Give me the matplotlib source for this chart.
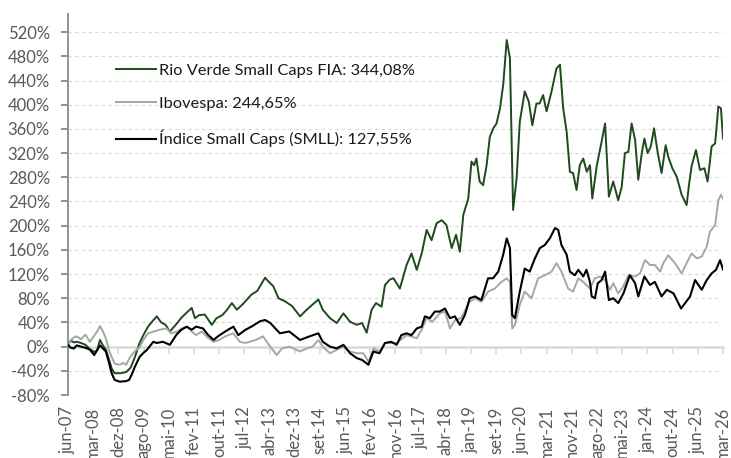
import matplotlib
matplotlib.use("Agg")
import matplotlib.pyplot as plt
import matplotlib.transforms as mtransforms

plt.rcParams.update({
    "font.family": ["Lato", "DejaVu Sans"],
    "font.size": 12,
})

# ── Data (months since jun-07, cumulative return %) ───────────────────────
rv_months = [0, 1, 2, 3, 4.5, 6, 7.5, 9, 10, 11, 12, 13, 14, 15, 16, 18, 20, 21.5, 23, 24.5,
             26, 27.5, 29, 30.5, 32, 33.5, 35, 37, 39, 40.5, 42.5, 43.6, 45, 47, 49.4, 51, 53,
             54.5, 56.3, 58, 60, 63, 65, 67.7, 68.8, 70.5, 72.3, 74.5, 77, 79.7, 82, 86, 87.5,
             90, 92.3, 94.6, 96.9, 99.2, 101, 102.6, 104.3, 105.8, 107.7, 108.9, 110.6, 111.8,
             114, 116.3, 118, 119.8, 121.5, 123.2, 124.9, 126.6, 128.4, 130, 131.8, 133.3,
             134.6, 135.8, 137.5, 138.6, 139.5, 140.3, 141.4, 142.6, 143.8, 144.9, 146.1, 147.2,
             148.4, 149.5, 150.7, 151.8, 152.9, 154.1, 155.2, 156.9, 158.3, 159.5, 160.9, 162,
             163.2, 164.4, 166.1, 167.8, 169, 170.1, 171.3, 172.4, 173.5, 174.7, 175.8, 177,
             178.2, 179.3, 180.1, 181.6, 183.3, 184.5, 185.1, 185.8, 187.3, 189, 190.2, 191.3,
             192.5, 193.6, 194.8, 195.9, 197.1, 198, 199.1, 200.2, 201.3, 202.6, 203.9, 205.3,
             206.2, 207.6, 209.1, 210.8, 212.5, 213.3, 214.2, 215.7, 217.1, 218.6, 219.7, 221.1,
             222.3, 223.4, 224.3, 225]
rv_values = [4, 10, 7, 8, 6, 3, -4, -9, -6, 11, 2, -5, -20, -36, -44, -44, -42, -35, -17, 5,
             20, 33, 42, 50, 40, 36, 25, 36, 48, 55, 64, 47, 52, 53, 36, 47, 52,
             60, 72, 61, 70, 86, 92, 114, 108, 100, 80, 75, 67, 50, 61, 78, 61,
             47, 39, 55, 41, 36, 39, 23, 61, 72, 66, 102, 111, 113,
             96, 135, 154, 127, 154, 193, 176, 204, 209, 201, 163, 185,
             157, 218, 245, 306, 300, 311, 273, 267, 300, 347, 361, 369,
             394, 433, 507, 477, 226, 278, 372, 422, 405, 366, 402, 402,
             416, 389, 422, 460, 466, 394, 355, 289, 287, 259, 300, 311,
             289, 300, 245, 298, 339, 369, 314, 248, 273, 242, 264, 320,
             322, 369, 342, 276, 320, 344, 320, 331, 361, 320, 287, 333,
             314, 295, 281, 251, 234, 267, 298, 325, 292, 295, 273, 331,
             336, 397, 394, 344.08]

ibov_months = [0, 1, 2, 3, 4.5, 6, 7.5, 9, 10, 11, 12, 13, 14, 15, 16, 17.8, 19, 20, 21, 22.5,
               24.7, 26, 27.5, 29.5, 31.5, 33.9, 35.5, 37.5, 39, 40.8, 42.5, 44, 46, 48, 50, 52,
               54, 56.8, 59, 61, 64.5, 67, 69, 71.7, 73.5, 76, 79.7, 82, 84, 86, 87.5, 90, 92,
               94.5, 96.9, 99.2, 101.5, 103.2, 105, 107, 108.9, 112.9, 116.3, 119.8, 121.5,
               123.2, 125.2, 127.7, 129.5, 131.2, 133, 135, 138, 139.8, 142, 144.3, 146.6,
               148.9, 150.7, 151.8, 152.6, 153.5, 155.2, 156.9, 159.2, 161.5, 163.8, 166.1,
               167.8, 169.5, 171.8, 173.5, 175.3, 177, 179.3, 181, 182.8, 184.5, 186.2, 187.3,
               189, 190.7, 192.5, 194.8, 196.5, 198.2, 199.9, 201.6, 203.4, 204.5, 206.2, 208.5,
               210.8, 212.5, 214.2, 216, 217.7, 219.4, 220.5, 222.3, 223.4, 224.3, 225]
ibov_values = [3, 11, 15, 17, 12, 20, 8, 18, 25, 34, 25, 14, -5, -17, -28, -30, -27, -30, -20, -10,
               0, 12, 22, 25, 28, 30, 22, 25, 30, 33, 25, 19, 25, 15, 8, 11,
               17, 22, 8, 6, 11, 17, 3, -14, -3, 0, -8, -3, 0, 11, 0, -11, -6,
               0, -8, -11, -11, -25, -3, -8, 6, 6, 19, 14, 28,
               47, 41, 55, 58, 30, 44, 47, 74, 80, 74, 91, 96,
               107, 113, 107, 30, 36, 69, 91, 80, 113, 118, 124,
               138, 124, 96, 91, 113, 107, 96, 113, 116, 110, 94, 105,
               88, 99, 118, 116, 121, 143, 135, 135, 124, 138, 151, 138,
               121, 138, 154, 146, 149, 165, 190, 201, 242, 251, 244.65]

smll_months = [0, 1, 2, 3, 4.5, 6, 7.5, 9, 10, 11, 12, 13, 14, 15, 16, 17.8, 20, 21, 22, 23,
               24.6, 26, 27, 29.3, 30.5, 32.6, 35, 37.3, 39, 40.8, 42.5, 44, 46.4, 48, 50, 51.5,
               54, 56.8, 58.5, 61, 63, 66, 67.7, 69.5, 72.8, 76, 79.7, 83, 86, 87.5, 90, 92.3,
               94.6, 96.9, 99.2, 101, 103.2, 104.9, 107, 108.9, 111, 112.9, 114.5, 116.3, 118,
               119.8, 121.5, 122.6, 124.3, 126, 127.7, 129.5, 131.2, 132.9, 134.6, 136.3, 138,
               139.8, 142, 144.3, 146, 147.8, 149.5, 150.7, 151.8, 152.6, 153.5, 155.2, 156.9,
               158.6, 160.4, 162.1, 163.8, 165.5, 167.3, 168.4, 169.5, 171.3, 172.4, 174.1,
               175.3, 177, 178.1, 179.3, 179.9, 181, 182, 183.3, 184.5, 185.8, 187.3, 189,
               190.8, 193, 194.8, 195.9, 198, 199.9, 201.6, 203.9, 205.7, 208, 210.6, 212,
               213.7, 215.4, 217.7, 219.4, 221.1, 222.6, 224, 225]
smll_values = [3, -2, -3, 2, 0, -2, -5, -14, -6, 2, -3, -8, -25, -44, -55, -58, -57, -55, -45, -33,
               -17, -10, -6, 8, 6, 8, 3, 20, 28, 33, 28, 33, 30, 20, 11, 17,
               25, 33, 19, 28, 33, 42, 44, 39, 22, 25, 11, 17, 22, 8, 0, -3,
               3, -11, -19, -22, -30, -8, -11, 6, 8, 3, 19, 22, 19,
               30, 33, 50, 47, 58, 58, 63, 47, 50, 36, 52, 80,
               83, 77, 113, 113, 124, 152, 179, 163, 52, 47, 91, 129,
               124, 146, 163, 168, 179, 196, 193, 168, 152, 124, 118,
               127, 116, 127, 107, 83, 80, 105, 110, 124, 77, 80, 72,
               88, 118, 105, 83, 116, 102, 107, 83, 94, 88, 63, 72,
               83, 110, 94, 110, 121, 127, 143, 127.55]

tick_labels = ["jun-07", "mar-08", "dez-08", "ago-09", "mai-10", "fev-11", "out-11", "jul-12",
               "abr-13", "dez-13", "set-14", "jun-15", "fev-16", "nov-16", "jul-17", "abr-18",
               "jan-19", "set-19", "jun-20", "mar-21", "nov-21", "ago-22", "mai-23", "jan-24",
               "out-24", "jun-25", "mar-26"]
y_ticks = list(range(-80, 521, 40))

labels = ["Rio Verde Small Caps FIA: 344,08%", "Ibovespa: 244,65%",
          "Índice Small Caps (SMLL): 127,55%"]

GREEN = "#1f4a1c"
GREY = "#a6a6a6"
BLACK = "#000000"
TEXT = "#595959"

# ── Figure ────────────────────────────────────────────────────────────────
fig = plt.figure(figsize=(7.31, 4.58), dpi=100)
W, H = 731, 458
ax = fig.add_axes([68 / W, 1 - 395 / H, (723 - 68) / W, (395 - 14) / H])

ax.plot(rv_months, rv_values, color=GREEN, lw=1.4, label=labels[0], zorder=3)
ax.plot(ibov_months, ibov_values, color=GREY, lw=1.4, label=labels[1], zorder=3)
ax.plot(smll_months, smll_values, color=BLACK, lw=1.5, label=labels[2], zorder=4)

ax.set_xlim(0, 225)
ax.set_ylim(-80, 550)

# y axis
ax.set_yticks(y_ticks)
ax.set_yticklabels([f"{v}%" for v in y_ticks])
ax.tick_params(axis="y", colors="#7f7f7f", labelcolor=TEXT, length=5, width=1.2, pad=8,
               labelsize=12)
for v in y_ticks:
    if v != 0:
        ax.axhline(v, color="#d9d9d9", lw=0.8, ls=(0, (3, 3)), zorder=1)

ax.spines["top"].set_visible(False)
ax.spines["right"].set_visible(False)
ax.spines["left"].set_color("#8c8c8c")
ax.spines["left"].set_linewidth(1.3)
ax.spines["bottom"].set_position(("data", 0))
ax.spines["bottom"].set_color("#d9d9d9")
ax.spines["bottom"].set_linewidth(1.8)
ax.spines["bottom"].set_zorder(2)

# x axis: ticks on the 0% line, labels at the bottom
xt = [225 * i / (len(tick_labels) - 1) for i in range(len(tick_labels))]
ax.set_xticks(xt)
ax.tick_params(axis="x", colors="#d9d9d9", length=5, width=1.2, labelbottom=False)
trans = mtransforms.blended_transform_factory(ax.transData, ax.transAxes)
for x, lab in zip(xt, tick_labels):
    ax.text(x, -0.03, lab, transform=trans, rotation=90, ha="center", va="top",
            color=TEXT, fontsize=12)

ax.legend(loc="upper left", bbox_to_anchor=(0.074, 0.871), frameon=False, fontsize=11.8,
          handlelength=2.4, handletextpad=0.2, labelspacing=1.15, borderpad=0,
          borderaxespad=0, labelcolor="#1a1a1a")

fig.savefig("out.png", dpi=100)
